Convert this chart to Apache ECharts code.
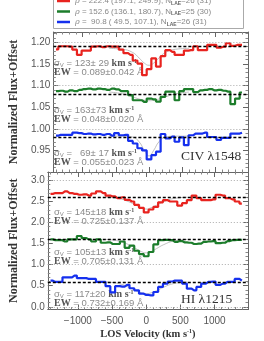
<!DOCTYPE html>
<html><head><meta charset="utf-8">
<script src="https://cdn.jsdelivr.net/npm/echarts@6/dist/echarts.min.js"></script>
<style>html,body{margin:0;padding:0;background:#fff}#c{width:264px;height:341px}</style>
</head><body><div id="c"></div>
<script>
// LOS velocity bin centres (km/s)
const velocity = [-1400,-1330,-1260,-1190,-1120,-1050,-980,-910,-840,-770,-700,-630,-560,-490,-420,-350,-280,-210,-140,-70,0,70,140,210,280,350,420,490,560,630,700,770,840,910,980,1050,1120,1190,1260,1330,1400];

// CIV 1548 stacked flux + offset
const civRed   = [1.184,1.191,1.191,1.190,1.183,1.171,1.181,1.181,1.190,1.191,1.189,1.191,1.190,1.190,1.183,1.175,1.171,1.158,1.151,1.124,1.138,1.163,1.144,1.168,1.182,1.178,1.171,1.171,1.181,1.182,1.191,1.182,1.182,1.194,1.194,1.188,1.190,1.198,1.192,1.194,1.194];
const civGreen = [1.087,1.088,1.086,1.089,1.087,1.090,1.092,1.093,1.091,1.093,1.092,1.090,1.093,1.091,1.087,1.087,1.078,1.066,1.066,1.062,1.070,1.068,1.063,1.074,1.086,1.086,1.066,1.087,1.092,1.092,1.085,1.089,1.090,1.092,1.089,1.090,1.088,1.086,1.057,1.070,1.084];
const civBlue  = [0.984,0.986,0.986,0.986,0.991,0.990,0.988,0.989,0.987,0.988,0.986,0.988,0.984,0.990,0.985,0.986,0.972,0.966,0.955,0.950,0.929,0.939,0.947,0.988,0.978,0.982,0.970,0.980,0.962,0.985,0.989,0.989,0.991,0.981,0.981,0.974,0.979,0.979,0.989,0.989,0.991];

// HI 1215 stacked flux + offset
const hiRed   = [2.68,2.70,2.70,2.74,2.70,2.68,2.66,2.67,2.64,2.69,2.74,2.70,2.64,2.62,2.58,2.60,2.54,2.50,2.42,2.35,2.24,2.31,2.37,2.48,2.53,2.50,2.50,2.40,2.46,2.53,2.64,2.58,2.53,2.53,2.55,2.66,2.64,2.58,2.55,2.50,2.45];
const hiGreen = [1.60,1.58,1.58,1.55,1.60,1.60,1.68,1.63,1.60,1.55,1.60,1.52,1.53,1.49,1.49,1.55,1.40,1.45,1.33,1.25,1.20,1.30,1.48,1.58,1.59,1.58,1.54,1.56,1.53,1.52,1.49,1.50,1.54,1.55,1.56,1.51,1.52,1.56,1.58,1.59,1.59];
const hiBlue  = [0.62,0.59,0.59,0.70,0.70,0.74,0.68,0.68,0.66,0.66,0.59,0.59,0.49,0.34,0.49,0.48,0.52,0.44,0.39,0.31,0.28,0.27,0.35,0.47,0.55,0.60,0.62,0.62,0.55,0.43,0.39,0.47,0.55,0.59,0.60,0.52,0.55,0.59,0.59,0.66,0.62];

// Gaussian fit curves (velocity, flux)
const fitVel      = [-600,-400,-250,-150,-70,0,70,150,250,400,600];
const civRedFit   = [1.186,1.184,1.177,1.164,1.152,1.147,1.152,1.164,1.177,1.184,1.186];
const civGreenFit = [1.085,1.081,1.074,1.069,1.066,1.065,1.066,1.069,1.074,1.081,1.085];
const civBlueFit  = [0.983,0.983,0.981,0.970,0.950,0.937,0.950,0.970,0.981,0.983,0.983];
const hiRedFit    = [2.60,2.57,2.49,2.41,2.35,2.32,2.35,2.41,2.49,2.57,2.60];
const hiGreenFit  = [1.60,1.56,1.47,1.38,1.31,1.28,1.31,1.38,1.47,1.56,1.60];
const hiBlueFit   = [0.59,0.55,0.46,0.38,0.33,0.31,0.33,0.38,0.46,0.55,0.59];

// continuum levels (black dashed) and offset guides (grey dotted)
const civContinuum = [1.186,1.085,0.983];
const hiContinuum  = [2.60,1.60,0.59];
const civGuides = [1.20,1.10,1.00];
const hiGuides  = [3.0,2.0,1.0,0.0];

const legendNames = {
  red:   '{r|ρ}{g| = 222.4 (197.1, 249.9), N}{s|LAE}{g|=26 (31)}',
  green: '{r|ρ}{g| = 152.6 (136.1, 180.7), N}{s|LAE}{g|=25 (30)}',
  blue:  '{r|ρ}{g| =  90.8 ( 49.5, 107.1), N}{s|LAE}{g|=26 (31)}'
};
const civStats = [['123± 29','0.089±0.042'],['163±73','0.048±0.020'],['  69± 17','0.055±0.023']];
const hiStats  = [['145±18','0.725±0.137'],['105±13','0.705±0.131'],['117±20','0.732±0.169']];

const RED='#e8231f', GREEN='#1c7d2b', BLUE='#1530ee';
const pair = (xs, ys) => xs.map((x,i)=>[x, ys[i]]);

const chart = echarts.init(document.getElementById('c'), null, {renderer:'canvas'});

const XMIN=-1440, XMAX=1490;
const tickCol='#555';
function xAx(grid, pos, labels){
  return {type:'value', gridIndex:grid, position:pos, min:XMIN, max:XMAX, splitNumber:6,
    axisLine:{show:true, onZero:false, lineStyle:{color:'#666', width:1}},
    axisTick:{show:true, inside:true, length:5, lineStyle:{color:'#666'}},
    minorTick:{show:true, splitNumber:5, length:2.5, lineStyle:{color:'#888'}},
    splitLine:{show:false},
    axisLabel:{show:labels, color:tickCol, fontSize:10, fontFamily:'Liberation Sans', margin:7,
      formatter:v=> (Math.abs(v)%500===0 && Math.abs(v)<1400) ? String(v).replace('-','\u2212') : ''},
    name: labels ? '{b|LOS Velocity (km s}{sp|-1}{b|)}' : '', nameLocation:'middle', nameGap:19,
    nameTextStyle:{rich:{b:{fontFamily:'Liberation Serif', fontWeight:'bold', fontSize:10.5, color:'#333', lineHeight:12},
                         sp:{fontFamily:'Liberation Serif', fontWeight:'bold', fontSize:6, color:'#333', verticalAlign:'top', lineHeight:12}}}
  };
}
function yAx(grid, pos, min, max, step, decimals, lowest, labels){
  return {type:'value', gridIndex:grid, position:pos, min:min, max:max, splitNumber:6,
    axisLine:{show:true, onZero:false, lineStyle:{color:'#666', width:1}},
    axisTick:{show:true, inside:true, length:5, lineStyle:{color:'#666'}},
    minorTick:{show:true, splitNumber:5, length:2.5, lineStyle:{color:'#888'}},
    splitLine:{show:false},
    axisLabel:{show:labels, color:tickCol, fontSize:10, fontFamily:'Liberation Sans', margin:3,
      formatter:v=>{ const k=v/step; if (Math.abs(k-Math.round(k))>1e-6 || v<lowest-1e-9 || v>max-1e-9) return ''; return v.toFixed(decimals);} },
    name: labels ? 'Normalized Flux+Offset' : '', nameLocation:'middle', nameGap:24, nameRotate:90,
    nameTextStyle:{fontFamily:'Liberation Serif', fontWeight:'bold', fontSize:12, color:'#333'}
  };
}

function stepSeries(name, data, color, xi, yi, extra){
  return Object.assign({type:'line', name:name, xAxisIndex:xi, yAxisIndex:yi, data:pair(velocity,data), step:'middle',
    showSymbol:false, symbol:'none', color:color, lineStyle:{color:color, width:2.2}, animation:false, z:3}, extra||{});
}
function fitSeries(data, xi, yi){
  return {type:'line', xAxisIndex:xi, yAxisIndex:yi, data:pair(fitVel,data), smooth:true, showSymbol:false, symbol:'none',
    lineStyle:{color:'#b0b0b0', width:0.8}, animation:false, z:2, silent:true};
}
function guideLines(guides, cont){
  return {silent:true, symbol:['none','none'], label:{show:false}, animation:false,
    data: guides.map(g=>({yAxis:g, lineStyle:{color:'#aaa', type:[1,2], width:1}}))
      .concat(cont.map(c=>({yAxis:c, lineStyle:{color:'#000', type:[3,2], width:1.3}})))};
}

function statText(x, y, s){
  return [
    {type:'text', left:x, top:y, z:1, silent:true, style:{
      text:'{g|σ}{sb|V}{g| = '+s[0]+' }{b|km s}{sp|-1}',
      rich:{g:{fill:'#8a8a8a', fontFamily:'Liberation Sans', fontSize:9.5, lineHeight:10},
            sb:{fill:'#8a8a8a', fontFamily:'Liberation Sans', fontSize:6, verticalAlign:'bottom', lineHeight:10},
            b:{fill:'#555', fontFamily:'Liberation Serif', fontWeight:'bold', fontSize:10, lineHeight:10},
            sp:{fill:'#555', fontFamily:'Liberation Serif', fontWeight:'bold', fontSize:6, verticalAlign:'top', lineHeight:10}}}},
    {type:'text', left:x, top:y+9.5, z:1, silent:true, style:{
      text:'{b|EW}{g| = '+s[1]+' Å}',
      rich:{g:{fill:'#8a8a8a', fontFamily:'Liberation Sans', fontSize:9.5, lineHeight:10},
            b:{fill:'#555', fontFamily:'Liberation Serif', fontWeight:'bold', fontSize:10, lineHeight:10}}}}
  ];
}

const option = {
  backgroundColor:'#fff',
  animation:false,
  grid:[{left:47, top:32, width:201, height:140}, {left:47, top:172, width:201, height:139}],
  xAxis:[xAx(0,'bottom',false), xAx(0,'top',false), xAx(1,'bottom',true), xAx(1,'top',false)],
  yAxis:[yAx(0,'left',0.90,1.224,0.05,2,0.95,true), yAx(0,'right',0.90,1.224,0.05,2,0.95,false),
         yAx(1,'left',-0.065,3.2,0.5,1,0,true), yAx(1,'right',-0.065,3.2,0.5,1,0,false)],
  legend:{orient:'vertical', left:57, top:-4, padding:0, itemGap:0.5, itemWidth:13, itemHeight:2.5, icon:'rect', z:20,
    data:['red','green','blue'], selectedMode:false,
    formatter:n=>legendNames[n],
    textStyle:{lineHeight:10, rich:{
      r:{fontFamily:'DejaVu Serif', fontStyle:'italic', fontSize:8, color:'#888', lineHeight:10},
      g:{fontFamily:'Liberation Sans', fontSize:8, color:'#888', lineHeight:10},
      s:{fontFamily:'Liberation Sans', fontWeight:'bold', fontSize:5, color:'#666', verticalAlign:'bottom', lineHeight:10}}}},
  graphic:[
    {type:'rect', left:53, top:-3, z:15, silent:true, shape:{width:190, height:31}, style:{fill:'#fff', stroke:'#aaa', lineWidth:1}},
    {type:'text', left:181, top:149, z:1, silent:true, style:{text:'CIV λ1548', fill:'#333', font:'13.5px "Liberation Serif"'}},
    {type:'text', left:181, top:292, z:1, silent:true, style:{text:'HI λ1215', fill:'#333', font:'13.5px "Liberation Serif"'}},
  ].concat(statText(54, 58, civStats[0]), statText(54, 105, civStats[1]), statText(54, 148, civStats[2]),
           statText(54, 207, hiStats[0]), statText(54, 247, hiStats[1]), statText(54, 289, hiStats[2])),
  series:[
    fitSeries(civRedFit,0,0), fitSeries(civGreenFit,0,0), fitSeries(civBlueFit,0,0),
    fitSeries(hiRedFit,2,2), fitSeries(hiGreenFit,2,2), fitSeries(hiBlueFit,2,2),
    stepSeries('red', civRed, RED, 0, 0, {markLine:guideLines(civGuides, civContinuum)}),
    stepSeries('green', civGreen, GREEN, 0, 0),
    stepSeries('blue', civBlue, BLUE, 0, 0),
    stepSeries('hiRed', hiRed, RED, 2, 2, {markLine:guideLines(hiGuides, hiContinuum)}),
    stepSeries('hiGreen', hiGreen, GREEN, 2, 2),
    stepSeries('hiBlue', hiBlue, BLUE, 2, 2)
  ]
};
chart.setOption(option);
</script></body></html>
